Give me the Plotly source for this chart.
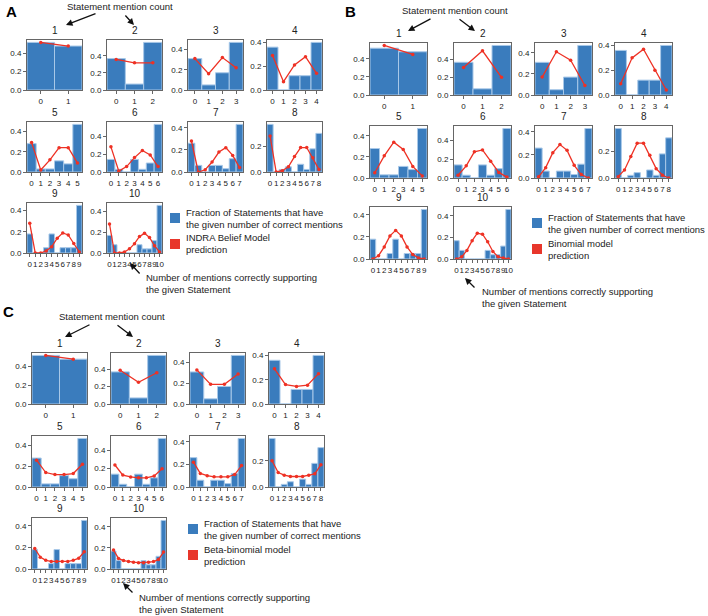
import plotly.graph_objects as go

W, H = 708, 616

# ---- data ----
mention_counts = [1, 2, 3, 4, 5, 6, 7, 8, 9, 10]

observed_fraction = {
    1: [0.52, 0.48],
    2: [0.37, 0.07, 0.56],
    3: [0.31, 0.05, 0.17, 0.47],
    4: [0.36, 0.0, 0.12, 0.12, 0.40],
    5: [0.28, 0.03, 0.03, 0.11, 0.08, 0.47],
    6: [0.14, 0.03, 0.0, 0.14, 0.03, 0.10, 0.53],
    7: [0.26, 0.06, 0.0, 0.06, 0.06, 0.03, 0.12, 0.43],
    8: [0.37, 0.0, 0.02, 0.04, 0.0, 0.06, 0.02, 0.18, 0.30],
    9: [0.18, 0.0, 0.0, 0.05, 0.18, 0.0, 0.05, 0.05, 0.05, 0.45],
    10: [0.17, 0.08, 0.0, 0.0, 0.0, 0.0, 0.08, 0.04, 0.04, 0.12, 0.46],
}

indra_prediction = {
    1: [0.52, 0.48],
    2: [0.36, 0.32, 0.32],
    3: [0.31, 0.16, 0.32, 0.22],
    4: [0.29, 0.07, 0.21, 0.28, 0.14],
    5: [0.29, 0.02, 0.12, 0.24, 0.24, 0.09],
    6: [0.28, 0.01, 0.06, 0.16, 0.24, 0.19, 0.06],
    7: [0.28, 0.0, 0.02, 0.09, 0.18, 0.22, 0.15, 0.04],
    8: [0.28, 0.0, 0.01, 0.04, 0.12, 0.19, 0.19, 0.11, 0.02],
    9: [0.28, 0.0, 0.0, 0.02, 0.06, 0.14, 0.19, 0.17, 0.09, 0.01],
    10: [0.28, 0.0, 0.0, 0.01, 0.04, 0.09, 0.16, 0.19, 0.15, 0.07, 0.01],
}

binomial_prediction = {
    1: [0.55, 0.45],
    2: [0.31, 0.50, 0.20],
    3: [0.17, 0.41, 0.33, 0.09],
    4: [0.09, 0.30, 0.37, 0.20, 0.04],
    5: [0.05, 0.21, 0.34, 0.27, 0.11, 0.02],
    6: [0.03, 0.13, 0.28, 0.30, 0.18, 0.06, 0.01],
    7: [0.01, 0.09, 0.22, 0.29, 0.24, 0.11, 0.03, 0.0],
    8: [0.01, 0.06, 0.16, 0.26, 0.26, 0.17, 0.07, 0.02, 0.0],
    9: [0.0, 0.03, 0.11, 0.21, 0.26, 0.21, 0.11, 0.04, 0.01, 0.0],
    10: [0.0, 0.02, 0.08, 0.17, 0.24, 0.23, 0.16, 0.07, 0.02, 0.01, 0.0],
}

betabinomial_prediction = {
    1: [0.52, 0.48],
    2: [0.39, 0.25, 0.36],
    3: [0.33, 0.19, 0.19, 0.29],
    4: [0.29, 0.16, 0.145, 0.155, 0.25],
    5: [0.26, 0.14, 0.12, 0.12, 0.13, 0.22],
    6: [0.24, 0.13, 0.11, 0.10, 0.10, 0.12, 0.20],
    7: [0.22, 0.12, 0.10, 0.09, 0.09, 0.09, 0.11, 0.19],
    8: [0.20, 0.11, 0.09, 0.08, 0.08, 0.08, 0.09, 0.10, 0.17],
    9: [0.19, 0.11, 0.08, 0.07, 0.07, 0.07, 0.07, 0.08, 0.10, 0.16],
    10: [0.18, 0.10, 0.08, 0.07, 0.065, 0.06, 0.06, 0.065, 0.07, 0.09, 0.16],
}

legend_bar_text = ["Fraction of Statements that have", "the given number of correct mentions"]
model_names = ["INDRA Belief Model", "Binomial model", "Beta-binomial model"]

# ---- layout geometry (pixels) ----
panels = [
    dict(label="A", model=indra_prediction, name=model_names[0], lefts=[27, 107, 188, 267], w=55,
         tops=[40, 122, 203], h=50, lab=(4, 12),
         title_xy=(120, 7), arrows=[((97, 13), (66, 25)), ((124, 14), (134, 25))],
         leg=(170, 212), note=(144, 277), note_arrow=((141, 275), (130, 263))),
    dict(label="B", model=binomial_prediction, name=model_names[1], lefts=[370, 454, 535, 615], w=57,
         tops=[43, 126, 207], h=52, lab=(343, 12),
         title_xy=(455, 10), arrows=[((432, 18), (408, 31)), ((458, 18), (475, 31))],
         leg=(532, 217), note=(480, 291), note_arrow=((476, 289), (465, 278))),
    dict(label="C", model=betabinomial_prediction, name=model_names[2], lefts=[32, 111, 190, 269], w=55,
         tops=[353, 436, 518], h=51, lab=(1, 311),
         title_xy=(112, 316), arrows=[((91, 324), (65, 337)), ((116, 324), (133, 337))],
         leg=(188, 523), note=(137, 597), note_arrow=((134, 594), (123, 583))),
]

BAR_COLOR = "#3a7cbd"
BAR_EDGE = "#a8c8e8"
LINE_COLOR = "#ee3124"
FRAME = "#666666"
FONT = "Arial"
TXT = 9.5

fig = go.Figure()
layout = dict(width=W, height=H, margin=dict(l=0, r=0, t=0, b=0, pad=0, autoexpand=False),
              plot_bgcolor="white", paper_bgcolor="white", showlegend=False,
              font=dict(family=FONT, color="#222222"), bargap=0)
annotations = []
shapes = []


def px(x):
    return x / W


def py(y):
    return 1 - y / H


k = 0
for p in panels:
    for idx, n in enumerate(mention_counts):
        k += 1
        row, col = idx // 4, idx % 4
        left = p["lefts"][col]
        top = p["tops"][row]
        xs = list(range(n + 1))
        ymax = max(max(observed_fraction[n]), max(p["model"][n])) * 1.05
        xa = "x" if k == 1 else f"x{k}"
        ya = "y" if k == 1 else f"y{k}"
        fig.add_trace(go.Bar(x=xs, y=observed_fraction[n], width=1.0, marker=dict(color=BAR_COLOR,
                             line=dict(color=BAR_EDGE, width=1)), xaxis=xa, yaxis=ya))
        fig.add_trace(go.Scatter(x=xs, y=p["model"][n], mode="lines+markers",
                                 line=dict(color=LINE_COLOR, width=1.3),
                                 marker=dict(color=LINE_COLOR, size=3.5), xaxis=xa, yaxis=ya))
        axcommon = dict(showline=True, mirror=True, linecolor=FRAME, linewidth=1, showgrid=False,
                        zeroline=False, ticks="outside", ticklen=3, tickcolor=FRAME, automargin=False,
                        tickfont=dict(size=8, family=FONT, color="#222222"))
        layout["xaxis" if k == 1 else f"xaxis{k}"] = dict(
            domain=[px(left), px(left + p["w"])], range=[-0.5, n + 0.5], tickvals=xs,
            ticktext=[str(v) for v in xs], tickangle=0,
            anchor=ya, fixedrange=True, **axcommon)
        layout["yaxis" if k == 1 else f"yaxis{k}"] = dict(
            domain=[py(top + p["h"]), py(top)], range=[0, ymax], tickvals=[0, 0.2, 0.4],
            tickformat=".1f", anchor=xa, fixedrange=True, **axcommon)
        annotations.append(dict(text=str(n), x=px(left + p["w"] / 2), y=py(top - 2), xref="paper", yref="paper",
                                xanchor="center", yanchor="bottom", showarrow=False,
                                font=dict(size=10, family=FONT, color="#222222")))
    # panel letter
    annotations.append(dict(text=f"<b>{p['label']}</b>", x=px(p["lab"][0]), y=py(p["lab"][1]), xref="paper",
                            yref="paper", xanchor="left", yanchor="middle", showarrow=False,
                            font=dict(size=15, family=FONT, color="black")))
    # "Statement mention count"
    annotations.append(dict(text="Statement mention count", x=px(p["title_xy"][0]), y=py(p["title_xy"][1]),
                            xref="paper", yref="paper", xanchor="center", yanchor="middle", showarrow=False,
                            font=dict(size=TXT, family=FONT, color="#222222")))
    for (tail, head) in p["arrows"] + [p["note_arrow"]]:
        annotations.append(dict(text="", x=px(head[0]), y=py(head[1]), xref="paper", yref="paper",
                                ax=tail[0] - head[0], ay=tail[1] - head[1], axref="pixel", ayref="pixel",
                                showarrow=True, arrowhead=2, arrowsize=1, arrowwidth=1.3,
                                arrowcolor="#111111"))
    # legend
    lx, ly = p["leg"]
    shapes.append(dict(type="rect", xref="paper", yref="paper", x0=px(lx), x1=px(lx + 10),
                       y0=py(ly + 11), y1=py(ly + 1), fillcolor=BAR_COLOR, line=dict(width=0)))
    shapes.append(dict(type="rect", xref="paper", yref="paper", x0=px(lx), x1=px(lx + 10),
                       y0=py(ly + 37), y1=py(ly + 27), fillcolor="#e8362b", line=dict(width=0)))
    annotations.append(dict(text="<br>".join(legend_bar_text), x=px(lx + 14), y=py(ly + 6), xref="paper",
                            yref="paper", xanchor="left", yanchor="middle", align="left", showarrow=False,
                            font=dict(size=TXT, family=FONT, color="#222222")))
    annotations.append(dict(text=p["name"] + "<br>prediction", x=px(lx + 14), y=py(ly + 32), xref="paper",
                            yref="paper", xanchor="left", yanchor="middle", align="left", showarrow=False,
                            font=dict(size=TXT, family=FONT, color="#222222")))
    nx, ny = p["note"]
    annotations.append(dict(text="Number of mentions correctly supporting<br>the given Statement",
                            x=px(nx), y=py(ny + 6), xref="paper", yref="paper", xanchor="left",
                            yanchor="middle", align="left", showarrow=False,
                            font=dict(size=TXT, family=FONT, color="#222222")))

layout["annotations"] = annotations
layout["shapes"] = shapes
fig.update_layout(**layout)
fig.write_html("out.html", config={"displayModeBar": False, "staticPlot": True},
               post_script="document.body.style.margin='0';document.body.style.padding='0';"
                           "document.documentElement.style.overflow='hidden';")
